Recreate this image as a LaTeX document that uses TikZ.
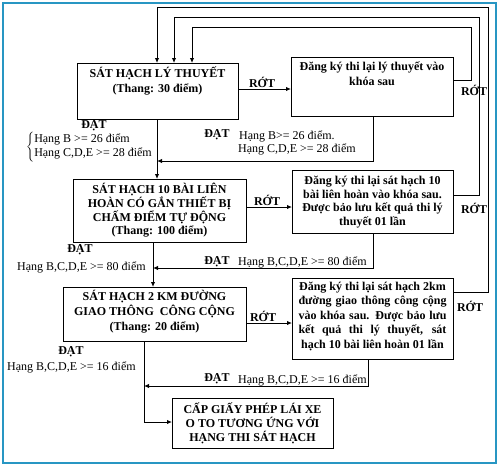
\documentclass[tikz,border=0pt]{standalone}
\usepackage{fontspec}
\setmainfont{Liberation Serif}
\usetikzlibrary{arrows.meta}
\definecolor{framec}{RGB}{40,150,195}
\tikzset{
  box/.style={draw, line width=1.2pt, inner sep=0pt, anchor=north west},
  btxt/.style={font=\fontsize{12}{15}\selectfont\bfseries, align=center, inner sep=0pt},
  lbl/.style={font=\fontsize{12}{14}\selectfont, inner sep=0pt},
  blbl/.style={font=\fontsize{12}{14}\selectfont\bfseries, inner sep=0pt},
  conn/.style={line width=1pt},
  arr/.style={conn, -{Latex[length=5pt,width=4.5pt]}},
}
\begin{document}
\begin{tikzpicture}[x=1pt,y=-1pt]
\useasboundingbox (0,0) rectangle (500,466);
\draw[framec, line width=2pt] (2.5,2.5) rectangle (495.5,463);

% boxes
\node[box, minimum width=161pt, minimum height=56pt] (b1) at (77,63) {};
\node[box, minimum width=162pt, minimum height=59pt] (b2) at (291,57) {};
\node[box, minimum width=173pt, minimum height=63pt] (b3) at (73,179) {};
\node[box, minimum width=161pt, minimum height=63pt] (b4) at (292,170) {};
\node[box, minimum width=183pt, minimum height=54pt] (b5) at (63,287) {};
\node[box, minimum width=161pt, minimum height=81pt] (b6) at (292,278) {};
\node[box, minimum width=161pt, minimum height=50pt] (b7) at (172,398) {};

% box texts
\node[btxt] (t1) at (157.5,80.5) {SÁT HẠCH LÝ THUYẾT\\(Thang: 30 điểm)};
\node[btxt] (t2) at (372,74) {Đăng ký thi lại lý thuyết vào\\khóa sau};
\node[btxt, font=\fontsize{12}{13.7}\selectfont\bfseries] (t3) at (159.5,210.5)
  {SÁT HẠCH 10 BÀI LIÊN\\HOÀN CÓ GẮN THIẾT BỊ\\CHẤM ĐIỂM TỰ ĐỘNG\\(Thang: 100 điểm)};
\node[btxt, font=\fontsize{12}{13.4}\selectfont\bfseries] (t4) at (372.5,202)
  {Đăng ký thi lại sát hạch 10\\bài liên hoàn vào khóa sau.\\Được bảo lưu kết quả thi lý\\thuyết 01 lần};
\node[btxt] (t5) at (154.5,312) {SÁT HẠCH 2 KM ĐƯỜNG\\GIAO THÔNG\ \ CÔNG CỘNG\\(Thang: 20 điểm)};
\node[btxt, font=\fontsize{12}{14.5}\selectfont\bfseries] (t6) at (372.5,316)
  {Đăng ký thi lại sát hạch 2km\\\makebox[148pt][s]{đường giao thông công cộng}\\\makebox[148pt][s]{vào khóa sau. Được bảo lưu}\\\makebox[148pt][s]{kết quả thi lý thuyết, sát}\\hạch 10 bài liên hoàn 01 lần};
\node[btxt, font=\fontsize{12}{14}\selectfont\bfseries] (t7) at (252.5,423)
  {CẤP GIẤY PHÉP LÁI XE\\O TO TƯƠNG ỨNG VỚI\\HẠNG THI SÁT HẠCH};

% forward connectors
\draw[arr] (b1.east |- 0,89) -- (b2.west |- 0,89);
\draw[arr] (b3.east |- 0,207) -- (b4.west |- 0,207);
\draw[arr] (b5.east |- 0,323) -- (b6.west |- 0,323);
\draw[arr] (b1.south -| 157,0) -- (b3.north -| 157,0);
\draw[arr] (b3.south -| 153,0) -- (b5.north -| 153,0);
\draw[arr] (b5.south -| 144,0) -- (144,422) -- (b7.west |- 0,422);

% pass lines from retake boxes
\draw[arr] (b2.south -| 373,0) -- (373,161) -- (157,161);
\draw[arr] (b4.south -| 373,0) -- (373,268) -- (153,268);
\draw[arr] (b6.south -| 368,0) -- (368,386) -- (144,386);

% feedback loops
\draw[arr] (b2.east |- 0,80) -- (471,80) -- (471,27) -- (192,27) -- (b1.north -| 192,0);
\draw[arr] (b4.east |- 0,195) -- (479,195) -- (479,17) -- (174,17) -- (b1.north -| 174,0);
\draw[arr] (b6.east |- 0,292) -- (488,292) -- (488,7) -- (157,7) -- (b1.north -| 157,0);

% RỚT labels
\node[blbl] (r1) at (262,82) {RỚT};
\node[blbl] (r2) at (267,200) {RỚT};
\node[blbl] (r3) at (263,316) {RỚT};
\node[blbl] (r4) at (474,90) {RỚT};
\node[blbl] (r5) at (474,208) {RỚT};
\node[blbl] (r6) at (470,306) {RỚT};

% ĐẠT labels
\node[blbl] (d1) at (94,126) {ĐẠT};
\node[lbl, anchor=west] (h1) at (26,147)
  {$\left\{\mbox{\begin{tabular}{@{}l@{}}Hạng B >= 26 điểm\\Hạng C,D,E >= 28 điểm\end{tabular}}\right.$};
\node[blbl] (d2) at (217,135) {ĐẠT};
\node[lbl, anchor=west] (h2) at (239,136) {Hạng B>= 26 điểm.};
\node[lbl, anchor=west] (h3) at (238,149) {Hạng C,D,E >= 28 điểm};

\node[blbl] (d3) at (80,250) {ĐẠT};
\node[lbl, anchor=west] (h4) at (17,267) {Hạng B,C,D,E >= 80 điểm};
\node[blbl] (d4) at (217,262) {ĐẠT};
\node[lbl, anchor=west] (h5) at (238,262) {Hạng B,C,D,E >= 80 điểm};

\node[blbl] (d5) at (71,352) {ĐẠT};
\node[lbl, anchor=west] (h6) at (7,367) {Hạng B,C,D,E >= 16 điểm};
\node[blbl] (d6) at (217,379) {ĐẠT};
\node[lbl, anchor=west] (h7) at (238,380) {Hạng B,C,D,E >= 16 điểm};
\end{tikzpicture}
\end{document}
